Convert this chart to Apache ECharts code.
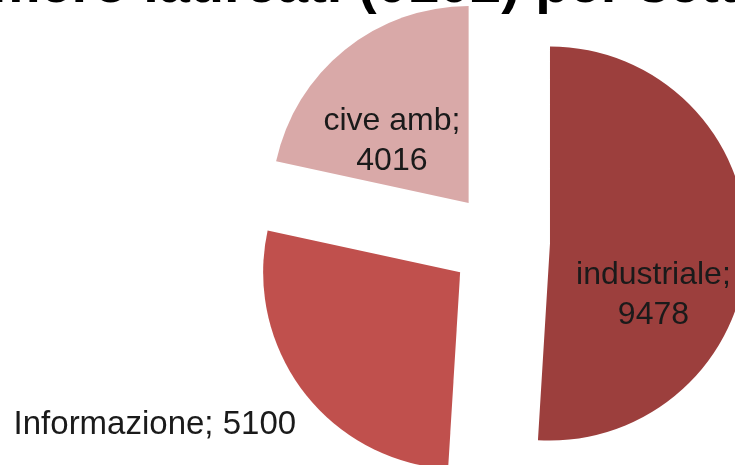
<!DOCTYPE html>
<html>
<head>
<meta charset="utf-8">
<script src="https://cdn.jsdelivr.net/npm/echarts@6/dist/echarts.min.js"></script>
<style>
  html, body { margin: 0; padding: 0; background: #fff; }
  #chart { width: 735px; height: 465px; }
</style>
</head>
<body>
<div id="chart"></div>
<script>
// dati
const settori = ["industriale", "Informazione", "cive amb"];
const laureati = [9478, 5100, 4016];
const colori = ["#9c3f3d", "#c0504d", "#d9a9a8"];
const titolo = "Numero laureati (0102) per settore";

const chart = echarts.init(document.getElementById("chart"));

const fontLabel = "Liberation Sans";

chart.setOption({
  animation: false,
  graphic: [
    {
      type: "text",
      left: -84,
      top: -41,
      style: {
        text: titolo,
        font: 'bold 56px "Liberation Sans"',
        fill: "#000"
      },
      silent: true
    }
  ],
  series: [
    {
      type: "pie",
      center: [500, 242],
      radius: 197,
      startAngle: 90,
      clockwise: true,
      selectedMode: "multiple",
      selectedOffset: 50,
      avoidLabelOverlap: false,
      emphasis: { disabled: true },
      label: {
        show: true,
        position: "inside",
        formatter: "{b};\n{c}",
        fontFamily: fontLabel,
        fontSize: 32,
        lineHeight: 40,
        color: "#1a1a1a",
        align: "center"
      },
      labelLine: { show: false },
      labelLayout: function (p) {
        // posizionamento "best fit" come nell'originale
        if (p.dataIndex === 0) return { dx: 2, dy: 49 };
        if (p.dataIndex === 1) return { dx: 40, dy: 25 };
        if (p.dataIndex === 2) return { dx: -13, dy: 17 };
        return {};
      },
      data: settori.map(function (s, i) {
        const item = {
          name: s,
          value: laureati[i],
          selected: true,
          itemStyle: { color: colori[i] }
        };
        if (i === 1) {
          item.label = { position: "outside", formatter: "{b}; {c}", fontSize: 33 };
        }
        return item;
      })
    }
  ]
});
</script>
</body>
</html>
